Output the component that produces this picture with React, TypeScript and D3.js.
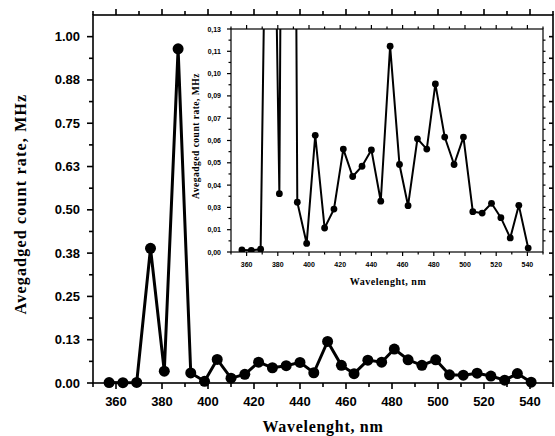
import React from "react";
import * as d3 from "d3";

const WIDTH = 555;
const HEIGHT = 436;

// wavelength (nm) and averaged count rate (MHz)
const wavelength = [
  357, 363, 369, 375, 381, 387, 392.5, 398.5, 404, 410, 416, 422, 428, 434, 440, 446,
  452, 458, 463.5, 469.5, 475.5, 481, 487, 493, 499, 505, 511, 517, 523, 529, 534.5, 540.5,
];
const countRate = [
  0.0012, 0.001, 0.0016, 0.389, 0.034, 0.965, 0.029, 0.005, 0.068, 0.014, 0.025, 0.06,
  0.044, 0.05, 0.0595, 0.0296, 0.12, 0.051, 0.027, 0.066, 0.06, 0.098, 0.067, 0.051,
  0.067, 0.0235, 0.0227, 0.0284, 0.02, 0.0082, 0.0272, 0.0023,
];

const xTicks = [360, 380, 400, 420, 440, 460, 480, 500, 520, 540];
const xMinor = [350, 370, 390, 410, 430, 450, 470, 490, 510, 530, 550];

const mainYTicks = [0, 0.125, 0.25, 0.375, 0.5, 0.625, 0.75, 0.875, 1.0];
const mainYLabels = ["0.00", "0.13", "0.25", "0.38", "0.50", "0.63", "0.75", "0.88", "1.00"];

const insetYTicks = [0, 0.013, 0.026, 0.039, 0.052, 0.065, 0.078, 0.091, 0.104, 0.117, 0.13];
const insetYLabels = ["0,00", "0,01", "0,03", "0,04", "0,05", "0,06", "0,07", "0,09", "0,10", "0,11", "0,13"];

const xTitle = "Wavelenght, nm";
const yTitle = "Avegadged count rate, MHz";

const points = wavelength.map((w, i) => ({ w, v: countRate[i] }));

const tickFont = "'Liberation Sans', Arial, sans-serif";
const titleFont = "'Liberation Serif', 'Times New Roman', serif";

function Frame({ x, y, tickLen, minorLen, font, labelGap, yTicks, yLabels, yMinor, rightInward, rightTicks, sw }) {
  const [x0, x1] = x.range();
  const [y0, y1] = y.range(); // y0 bottom, y1 top
  return (
    <g stroke="black" strokeWidth={sw} fill="none">
      <rect x={x0} y={y1} width={x1 - x0} height={y0 - y1} />
      {xTicks.map((t) => (
        <g key={"xt" + t}>
          <line x1={x(t)} x2={x(t)} y1={y0} y2={y0 + tickLen} />
          <line x1={x(t)} x2={x(t)} y1={y1} y2={y1 - tickLen} />
        </g>
      ))}
      {xMinor.map((t) => (
        <g key={"xm" + t}>
          <line x1={x(t)} x2={x(t)} y1={y0} y2={y0 + minorLen} />
          <line x1={x(t)} x2={x(t)} y1={y1} y2={y1 - minorLen} />
        </g>
      ))}
      {yTicks.map((t) => (
        <line key={"yt" + t} x1={x0} x2={x0 - tickLen} y1={y(t)} y2={y(t)} />
      ))}
      {yMinor.map((t) => (
        <line key={"ym" + t} x1={x0} x2={x0 - minorLen} y1={y(t)} y2={y(t)} />
      ))}
      {rightTicks.map((t) => (
        <line
          key={"yr" + t}
          x1={x1}
          x2={rightInward ? x1 - minorLen : x1 + minorLen}
          y1={y(t)}
          y2={y(t)}
        />
      ))}
      <g stroke="none" fill="black" fontFamily={tickFont} fontWeight="bold" fontSize={font}>
        {xTicks.map((t) => (
          <text key={"xl" + t} x={x(t)} y={y0 + tickLen + labelGap} textAnchor="middle" dominantBaseline="hanging">
            {t}
          </text>
        ))}
        {yTicks.map((t, i) => (
          <text key={"yl" + t} x={x0 - tickLen - labelGap} y={y(t)} textAnchor="end" dominantBaseline="central">
            {yLabels[i]}
          </text>
        ))}
      </g>
    </g>
  );
}

export default function App() {
  const xMain = d3.scaleLinear().domain([350, 550]).range([93, 553]);
  const yMain = d3.scaleLinear().domain([0, 1.0625]).range([383, 15]);
  const xIn = d3.scaleLinear().domain([350, 550]).range([231, 543]);
  const yIn = d3.scaleLinear().domain([0, 0.13]).range([252, 29]);

  const lineMain = d3.line<{ w: number; v: number }>().x((d) => xMain(d.w)).y((d) => yMain(d.v));
  const lineIn = d3.line<{ w: number; v: number }>().x((d) => xIn(d.w)).y((d) => yIn(d.v));

  const mainMinor = d3.range(0.0625, 1.0625, 0.125);
  const mainRight = d3.range(0.0625, 1.06, 0.0625);
  const inMinor = d3.range(0.0065, 0.13, 0.013);
  const inRight = d3.range(0.0065, 0.13, 0.0065);

  return (
    <svg width={WIDTH} height={HEIGHT} style={{ position: "absolute", left: 0, top: 0, background: "white" }}>
      {/* main chart */}
      <Frame
        x={xMain}
        y={yMain}
        tickLen={6}
        minorLen={4}
        font={13}
        labelGap={7}
        yTicks={mainYTicks}
        yLabels={mainYLabels}
        yMinor={mainMinor}
        rightInward={true}
        rightTicks={mainRight}
        sw={1.6}
      />
      <path d={lineMain(points)} fill="none" stroke="black" strokeWidth={3} strokeLinejoin="miter" />
      {points.map((d, i) => (
        <circle key={i} cx={xMain(d.w)} cy={yMain(d.v)} r={5.5} fill="black" />
      ))}
      <text x={323} y={432} textAnchor="middle" fontFamily={titleFont} fontWeight="bold" fontSize={16} letterSpacing={0.7}>
        {xTitle}
      </text>
      <text
        transform={`translate(26, 204) rotate(-90)`}
        textAnchor="middle"
        fontFamily={titleFont}
        fontWeight="bold"
        fontSize={16}
        letterSpacing={1.2}
      >
        {yTitle}
      </text>

      {/* inset */}
      <rect x={231} y={29} width={312} height={223} fill="white" />
      <defs>
        <clipPath id="insetClip">
          <rect x={231} y={29} width={312} height={223} />
        </clipPath>
      </defs>
      <g clipPath="url(#insetClip)">
        <path d={lineIn(points)} fill="none" stroke="black" strokeWidth={2} />
        {points.map((d, i) => (
          <circle key={i} cx={xIn(d.w)} cy={yIn(d.v)} r={3.4} fill="black" />
        ))}
      </g>
      <Frame
        x={xIn}
        y={yIn}
        tickLen={4}
        minorLen={2.5}
        font={7}
        labelGap={6}
        yTicks={insetYTicks}
        yLabels={insetYLabels}
        yMinor={inMinor}
        rightInward={false}
        rightTicks={inRight}
        sw={1.2}
      />
      <text x={388} y={285} textAnchor="middle" fontFamily={titleFont} fontWeight="bold" fontSize={10} letterSpacing={0.5}>
        {xTitle}
      </text>
      <text
        transform={`translate(199, 136) rotate(-90)`}
        textAnchor="middle"
        fontFamily={titleFont}
        fontWeight="bold"
        fontSize={9.5}
        letterSpacing={0.5}
      >
        {yTitle}
      </text>
    </svg>
  );
}
